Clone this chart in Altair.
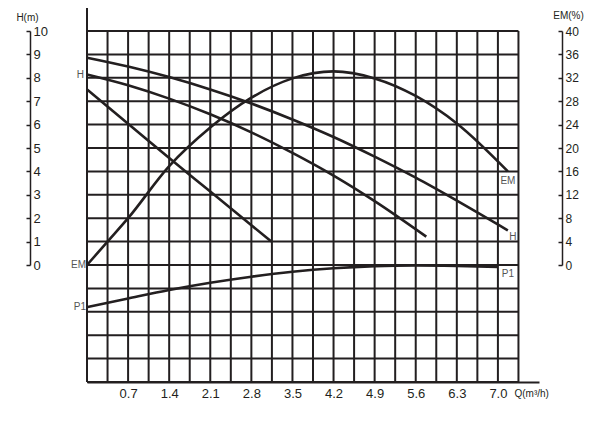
import altair as alt
import pandas as pd

# ---- tick / grid values ----
q_ticks = [0.7, 1.4, 2.1, 2.8, 3.5, 4.2, 4.9, 5.6, 6.3, 7.0]
h_ticks = [0, 1, 2, 3, 4, 5, 6, 7, 8, 9, 10]
em_ticks = [0, 4, 8, 12, 16, 20, 24, 28, 32, 36, 40]
grid_q = [0, 0.35, 0.7, 1.05, 1.4, 1.75, 2.1, 2.45, 2.8, 3.15, 3.5, 3.85,
          4.2, 4.55, 4.9, 5.25, 5.6, 5.95, 6.3, 6.65, 7.0, 7.35]
grid_h = [-5, -4, -3, -2, -1, 0, 1, 2, 3, 4, 5, 6, 7, 8, 9, 10]

# ---- curves ----
q_ha = [0, 0.7, 1.4, 2.1, 2.8, 3.5, 4.2, 4.9, 5.6, 6.3, 7.17]
h_ha = [8.86, 8.48, 8.03, 7.50, 6.90, 6.22, 5.47, 4.63, 3.73, 2.75, 1.48]

q_hb = [0, 0.7, 1.4, 2.1, 2.8, 3.5, 4.2, 4.9, 5.78]
h_hb = [8.14, 7.68, 7.11, 6.44, 5.67, 4.79, 3.82, 2.73, 1.21]

q_hc = [0, 0.7, 1.4, 2.1, 2.8, 3.14]
h_hc = [7.50, 6.04, 4.57, 3.14, 1.70, 1.00]

q_p1 = [0, 0.7, 1.4, 2.1, 2.8, 3.5, 4.2, 4.9, 5.6, 6.3, 7.0]
p1 = [-1.80, -1.43, -1.07, -0.76, -0.50, -0.29, -0.14, -0.05, -0.02, -0.04, -0.08]

q_em = [0, 0.35, 0.7, 1.4, 2.1, 2.8, 3.5, 4.2, 4.9, 5.6, 6.3, 7.17]
em = [0, 4.0, 8.0, 16.9, 23.5, 28.6, 31.9, 33.1, 31.9, 28.9, 24.2, 16.0]

# ---- labels ----
lab_left_h = {"Q": [0], "v": [8.14], "t": ["H"]}
lab_left_p1 = {"Q": [0], "v": [-1.80], "t": ["P1"]}
lab_left_em = {"Q": [0], "v": [0], "t": ["EM"]}
lab_right_h = {"Q": [7.17], "v": [1.48], "t": ["H"]}
lab_right_p1 = {"Q": [7.0], "v": [-0.08], "t": ["P1"]}
lab_right_em = {"Q": [7.17], "v": [16.0], "t": ["EM"]}

INK = "#231f20"
FONT = "Liberation Sans"

curves_h = pd.concat([
    pd.DataFrame({"Q": q_ha, "v": h_ha, "s": "Ha"}),
    pd.DataFrame({"Q": q_hb, "v": h_hb, "s": "Hb"}),
    pd.DataFrame({"Q": q_hc, "v": h_hc, "s": "Hc"}),
    pd.DataFrame({"Q": q_p1, "v": p1, "s": "P1"}),
])
curve_em = pd.DataFrame({"Q": q_em, "v": em})

x_scale = alt.Scale(domain=[0, 7.7], nice=False, zero=False)
x_axis = alt.Axis(values=q_ticks, format=".1f", grid=False, ticks=False, tickSize=0,
                  domainColor=INK, domainWidth=2, labelFontSize=13, labelFont=FONT,
                  labelColor=INK, labelPadding=5, labelFlush=False, labelOverlap=False,
                  title="Q(m³/h)", titleX=427, titleY=11, titleAlign="left",
                  titleBaseline="middle", titleFontSize=10, titleFontWeight="normal",
                  titleFont=FONT, titleColor=INK)

h_scale = alt.Scale(domain=[0, 10], range=[234, 0], nice=False, zero=False)
h_axis = alt.Axis(values=h_ticks, orient="left", offset=57, grid=False,
                  domainColor=INK, domainWidth=1.5, tickColor=INK, tickWidth=1.5, tickSize=4,
                  labelAlign="left", labelBaseline="middle", labelPadding=-7,
                  labelFontSize=13, labelFont=FONT, labelColor=INK,
                  labelFlush=False, labelOverlap=False,
                  title="H(m)", titleAngle=0, titleX=-3, titleY=-14, titleAlign="center",
                  titleBaseline="middle", titleFontSize=10, titleFontWeight="normal",
                  titleFont=FONT, titleColor=INK)

em_scale = alt.Scale(domain=[0, 40], range=[234, 0], nice=False, zero=False)
em_axis = alt.Axis(values=em_ticks, orient="left", offset=-475, grid=False,
                   domainColor=INK, domainWidth=1.5, tickColor=INK, tickWidth=1.5, tickSize=4,
                   labelAlign="left", labelBaseline="middle", labelPadding=-7,
                   labelFontSize=12, labelFont=FONT, labelColor=INK,
                   labelFlush=False, labelOverlap=False,
                   title="EM(%)", titleAngle=0, titleX=6, titleY=-16, titleAlign="center",
                   titleBaseline="middle", titleFontSize=10, titleFontWeight="normal",
                   titleFont=FONT, titleColor=INK)


def X(field="Q"):
    return alt.X(field, type="quantitative", scale=x_scale, axis=x_axis)


def YH(field="v"):
    return alt.Y(field, type="quantitative", scale=h_scale, axis=h_axis)


def YE(field="v"):
    return alt.Y(field, type="quantitative", scale=em_scale, axis=em_axis)


one = pd.DataFrame({"a": [0]})

grid_v = alt.Chart(pd.DataFrame({"Q": grid_q})).mark_rule(color=INK, strokeWidth=2).encode(
    x=X(),
    y=alt.YDatum(-5, type="quantitative", scale=h_scale, axis=h_axis),
    y2=alt.Y2Datum(10),
)
grid_hz = alt.Chart(pd.DataFrame({"v": grid_h})).mark_rule(color=INK, strokeWidth=2).encode(
    y=YH(),
    x=alt.XDatum(0, type="quantitative", scale=x_scale, axis=x_axis),
    x2=alt.X2Datum(7.35),
)
left_border = alt.Chart(one).mark_rule(color=INK, strokeWidth=2).encode(
    x=alt.XDatum(0, type="quantitative", scale=x_scale, axis=x_axis),
    y=alt.YDatum(-5, type="quantitative", scale=h_scale, axis=h_axis),
    y2=alt.Y2Datum(11),
)

lines_h = alt.Chart(curves_h).mark_line(color=INK, strokeWidth=2.6, interpolate="monotone").encode(
    x=X(), y=YH(), detail="s:N", order="Q:Q"
)


def label(d, layer_y, **kw):
    base = dict(font=FONT, fontSize=10, color="#555")
    base.update(kw)
    return alt.Chart(pd.DataFrame(d)).mark_text(**base).encode(x=X(), y=layer_y(), text="t:N")


labels_h = [
    label(lab_left_h, YH, align="right", baseline="middle", dx=-3),
    label(lab_left_p1, YH, align="right", baseline="middle", dx=-1),
    label(lab_right_h, YH, align="center", baseline="middle", dx=5, dy=7),
    label(lab_right_p1, YH, align="center", baseline="middle", dx=10, dy=7),
]

line_em = alt.Chart(curve_em).mark_line(color=INK, strokeWidth=2.6, interpolate="monotone").encode(
    x=X(), y=YE(), order="Q:Q"
)
labels_em = [
    label(lab_left_em, YE, align="right", baseline="middle", dx=-1),
    label(lab_right_em, YE, align="center", baseline="middle", dx=0, dy=10),
]

layer_h = alt.layer(grid_v, grid_hz, left_border, lines_h, *labels_h)
layer_em = alt.layer(line_em, *labels_em)

chart = alt.layer(layer_h, layer_em).resolve_scale(y="independent").properties(
    width=452, height=351,
    autosize=alt.AutoSizeParams(type="none"),
    padding={"left": 79, "top": 23, "right": 50, "bottom": 30},
    background="white",
).configure_view(stroke=None)

chart.save("out.html", embed_options={"renderer": "svg", "actions": False})
